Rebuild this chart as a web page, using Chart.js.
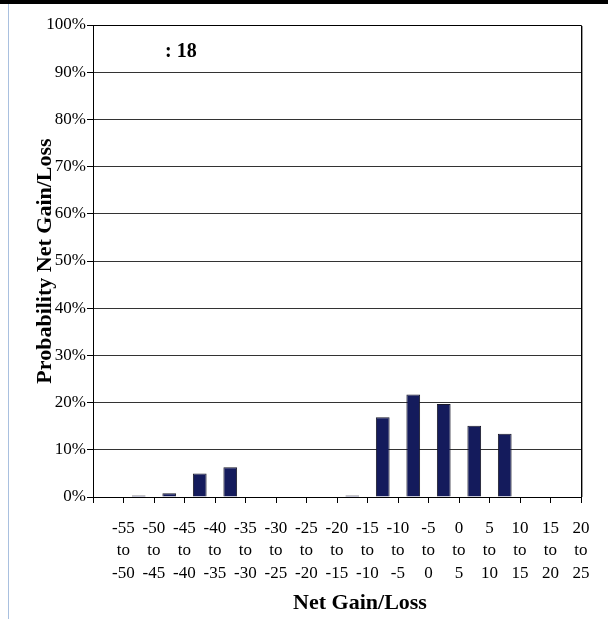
<!DOCTYPE html>
<html>
<head>
<meta charset="utf-8">
<script src="https://cdn.jsdelivr.net/npm/chart.js@4.4.1/dist/chart.umd.min.js"></script>
<style>
  html, body { margin: 0; padding: 0; background: #fff; }
  #wrap { width: 608px; height: 619px; position: relative; }
</style>
</head>
<body>
<div id="wrap"><canvas id="c" width="608" height="619"></canvas></div>
<script>
// ---- data ----
const categories = [
  ['-55','to','-50'], ['-50','to','-45'], ['-45','to','-40'], ['-40','to','-35'],
  ['-35','to','-30'], ['-30','to','-25'], ['-25','to','-20'], ['-20','to','-15'],
  ['-15','to','-10'], ['-10','to','-5'], ['-5','to','0'], ['0','to','5'],
  ['5','to','10'], ['10','to','15'], ['15','to','20'], ['20','to','25']
];
const probability = [0, 0.3, 0.8, 5.0, 6.3, 0, 0, 0, 0.3, 16.9, 21.7, 19.7, 15.1, 13.4, 0, 0];
const yTicks = [0, 10, 20, 30, 40, 50, 60, 70, 80, 90, 100];
const noteText = ': 18';
const xTitle = 'Net Gain/Loss';
const yTitle = 'Probability Net Gain/Loss';

const SERIF = '"Liberation Serif", "Times New Roman", serif';

const decor = {
  id: 'decor',
  beforeDraw(chart) {
    const ctx = chart.ctx;
    ctx.save();
    ctx.fillStyle = '#ffffff';
    ctx.fillRect(0, 0, chart.width, chart.height);
    ctx.fillStyle = '#000000';
    ctx.fillRect(0, 0, chart.width, 4);
    ctx.fillStyle = '#a9c0df';
    ctx.fillRect(8, 4, 1, chart.height - 4);
    ctx.restore();
  },
  afterDraw(chart) {
    const ctx = chart.ctx;
    const a = chart.chartArea;
    ctx.save();
    ctx.strokeStyle = '#000';
    ctx.lineWidth = 1;
    ctx.beginPath();
    ctx.moveTo(a.left, Math.round(a.top) + 0.5);
    ctx.lineTo(Math.round(a.right) + 0.5, Math.round(a.top) + 0.5);
    ctx.lineTo(Math.round(a.right) + 0.5, a.bottom);
    ctx.stroke();
    ctx.strokeStyle = '#9a9a9a';
    ctx.beginPath();
    ctx.moveTo(Math.round(a.right) + 1.5, Math.round(a.top) + 1);
    ctx.lineTo(Math.round(a.right) + 1.5, a.bottom);
    ctx.stroke();
    ctx.fillStyle = '#000';
    ctx.font = 'bold 20px ' + SERIF;
    ctx.textAlign = 'left';
    ctx.textBaseline = 'alphabetic';
    ctx.fillText(noteText, 165, 57);
    // x axis title (offset to the right as in the reference)
    ctx.font = 'bold 22px ' + SERIF;
    ctx.textAlign = 'center';
    ctx.textBaseline = 'middle';
    ctx.fillText(xTitle, 360, 603);
    ctx.restore();
  }
};

new Chart(document.getElementById('c'), {
  type: 'bar',
  data: {
    labels: categories,
    datasets: [{
      data: probability,
      backgroundColor: '#141b5c',
      borderColor: '#1a1a2a',
      borderWidth: 1,
      barPercentage: 0.45,
      categoryPercentage: 1.0
    }]
  },
  options: {
    responsive: false,
    animation: false,
    devicePixelRatio: 1,
    layout: { padding: { left: 0, top: 25, right: 27, bottom: 0 } },
    plugins: { legend: { display: false }, tooltip: { enabled: false } },
    scales: {
      x: {
        offset: true,
        grid: { offset: true, drawOnChartArea: false, color: '#000', tickColor: '#000', tickLength: 6 },
        border: { color: '#000', width: 1 },
        ticks: {
          color: '#000', font: { family: SERIF, size: 17, lineHeight: 1.33 },
          autoSkip: false, maxRotation: 0, minRotation: 0, padding: 14,
          labelOffset: 15.2
        },
        title: { display: false },
        afterFit(s) { s.height = 122; }
      },
      y: {
        min: 0, max: 100,
        afterBuildTicks(s) { s.ticks = yTicks.map(v => ({ value: v })); },
        grid: { color: '#333', tickColor: '#000', tickLength: 6 },
        border: { color: '#000', width: 1 },
        ticks: {
          color: '#000', font: { family: SERIF, size: 17 }, padding: 1,
          callback: v => v + '%'
        },
        title: {
          display: true, text: yTitle, color: '#000',
          font: { family: SERIF, size: 22, weight: 'bold', lineHeight: 1.2 },
          padding: { top: 32, bottom: 0 }
        },
        afterFit(s) { s.width = 93; }
      }
    }
  },
  plugins: [decor]
});
</script>
</body>
</html>
